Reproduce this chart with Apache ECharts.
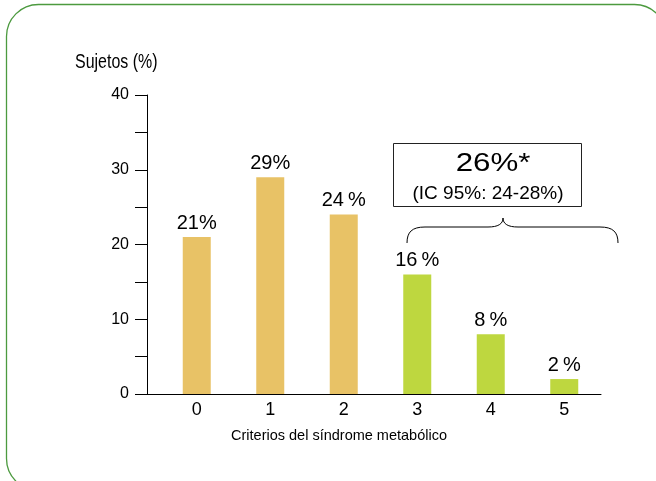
<!DOCTYPE html>
<html>
<head>
<meta charset="utf-8">
<script src="https://cdn.jsdelivr.net/npm/echarts@6.0.0/dist/echarts.min.js"></script>
<style>
  html, body { margin: 0; padding: 0; background: #fff; }
  #chart { width: 656px; height: 481px; }
</style>
</head>
<body>
<div id="chart"></div>
<script>
  // datos
  const categories = ['0', '1', '2', '3', '4', '5'];
  const values = [21, 29, 24, 16, 8, 2];
  const valueLabels = ['21%', '29%', '24\u2009%', '16\u2009%', '8\u2009%', '2\u2009%'];
  const barColors = ['#e8c266', '#e8c266', '#e8c266', '#bed73f', '#bed73f', '#bed73f'];
  const yLabelStep = 10;

  const font = '"Liberation Sans", Arial, sans-serif';

  const myChart = echarts.init(document.getElementById('chart'));

  let barData = [];
  for (let i = 0; i < values.length; i++) {
    barData.push({
      value: values[i],
      itemStyle: { color: barColors[i] }
    });
  }

  const thin = { stroke: '#000', lineWidth: 1, fill: 'none' };

  let option = {
    backgroundColor: '#fff',
    animation: false,
    grid: {
      left: 160,
      right: 55,
      top: 95,
      bottom: 87
    },
    xAxis: {
      type: 'category',
      data: categories,
      boundaryGap: true,
      axisLine: { lineStyle: { color: '#000', width: 1 } },
      axisTick: { length: 12, lineStyle: { color: '#000' } },
      axisLabel: { fontFamily: font, fontSize: 18, color: '#000', margin: 7 },
      name: 'Criterios del síndrome metabólico',
      nameLocation: 'middle',
      nameGap: 34,
      nameTextStyle: { fontFamily: font, fontSize: 14.5, color: '#000', padding: [0, 83, 0, 0] }
    },
    yAxis: {
      type: 'value',
      min: 0,
      max: 40,
      interval: 5,
      offset: 13,
      splitLine: { show: false },
      axisLine: { show: true, lineStyle: { color: '#000', width: 1 } },
      axisTick: { show: true, length: 12, lineStyle: { color: '#000' } },
      axisLabel: {
        fontFamily: font,
        fontSize: 16,
        color: '#000',
        margin: 18,
        formatter: function (v) {
          return v % yLabelStep === 0 ? String(v) : '';
        }
      }
    },
    series: [
      {
        type: 'bar',
        data: barData,
        barWidth: 28,
        label: {
          show: true,
          position: 'top',
          distance: 4,
          fontFamily: font,
          fontSize: 20,
          color: '#000',
          formatter: function (p) {
            return valueLabels[p.dataIndex];
          }
        }
      }
    ],
    graphic: [
      {
        type: 'rect',
        shape: { x: 6.5, y: 4.5, width: 660, height: 486, r: 32 },
        style: { fill: 'none', stroke: '#4c9a3f', lineWidth: 1.3 },
        silent: true
      },
      {
        type: 'text',
        x: 75,
        y: 62,
        scaleX: 0.76,
        style: { text: 'Sujetos (%)', font: '21px ' + font, fill: '#000', align: 'left', verticalAlign: 'middle' },
        silent: true
      },
      {
        type: 'line',
        shape: { x1: 147, y1: 394.5, x2: 160, y2: 394.5 },
        style: { stroke: '#000', lineWidth: 1 },
        silent: true
      },
      {
        type: 'rect',
        shape: { x: 393.5, y: 143.5, width: 188, height: 63 },
        style: { fill: '#fff', stroke: '#222', lineWidth: 1 },
        silent: true
      },
      {
        type: 'text',
        x: 493,
        y: 164,
        scaleX: 1.25,
        style: { text: '26%*', font: '25px ' + font, fill: '#000', align: 'center', verticalAlign: 'middle' },
        silent: true
      },
      {
        type: 'text',
        x: 488,
        y: 194,
        style: { text: '(IC 95%: 24-28%)', font: '19px ' + font, fill: '#000', align: 'center', verticalAlign: 'middle' },
        silent: true
      },
      // llave bajo el recuadro (criterios 3-5)
      { type: 'bezierCurve', silent: true, style: thin,
        shape: { x1: 407, y1: 243, cpx1: 407, cpy1: 232, cpx2: 412, cpy2: 227, x2: 425, y2: 227 } },
      { type: 'line', silent: true, style: thin,
        shape: { x1: 425, y1: 227, x2: 488, y2: 227 } },
      { type: 'bezierCurve', silent: true, style: thin,
        shape: { x1: 488, y1: 227, cpx1: 498, cpy1: 227, cpx2: 503, cpy2: 224, x2: 503, y2: 218 } },
      { type: 'bezierCurve', silent: true, style: thin,
        shape: { x1: 503, y1: 218, cpx1: 503, cpy1: 224, cpx2: 508, cpy2: 227, x2: 518, y2: 227 } },
      { type: 'line', silent: true, style: thin,
        shape: { x1: 518, y1: 227, x2: 600, y2: 227 } },
      { type: 'bezierCurve', silent: true, style: thin,
        shape: { x1: 600, y1: 227, cpx1: 613, cpy1: 227, cpx2: 618, cpy2: 232, x2: 618, y2: 243 } }
    ]
  };

  myChart.setOption(option);
  window.addEventListener('resize', function () {
    myChart.resize();
  });
</script>
</body>
</html>
